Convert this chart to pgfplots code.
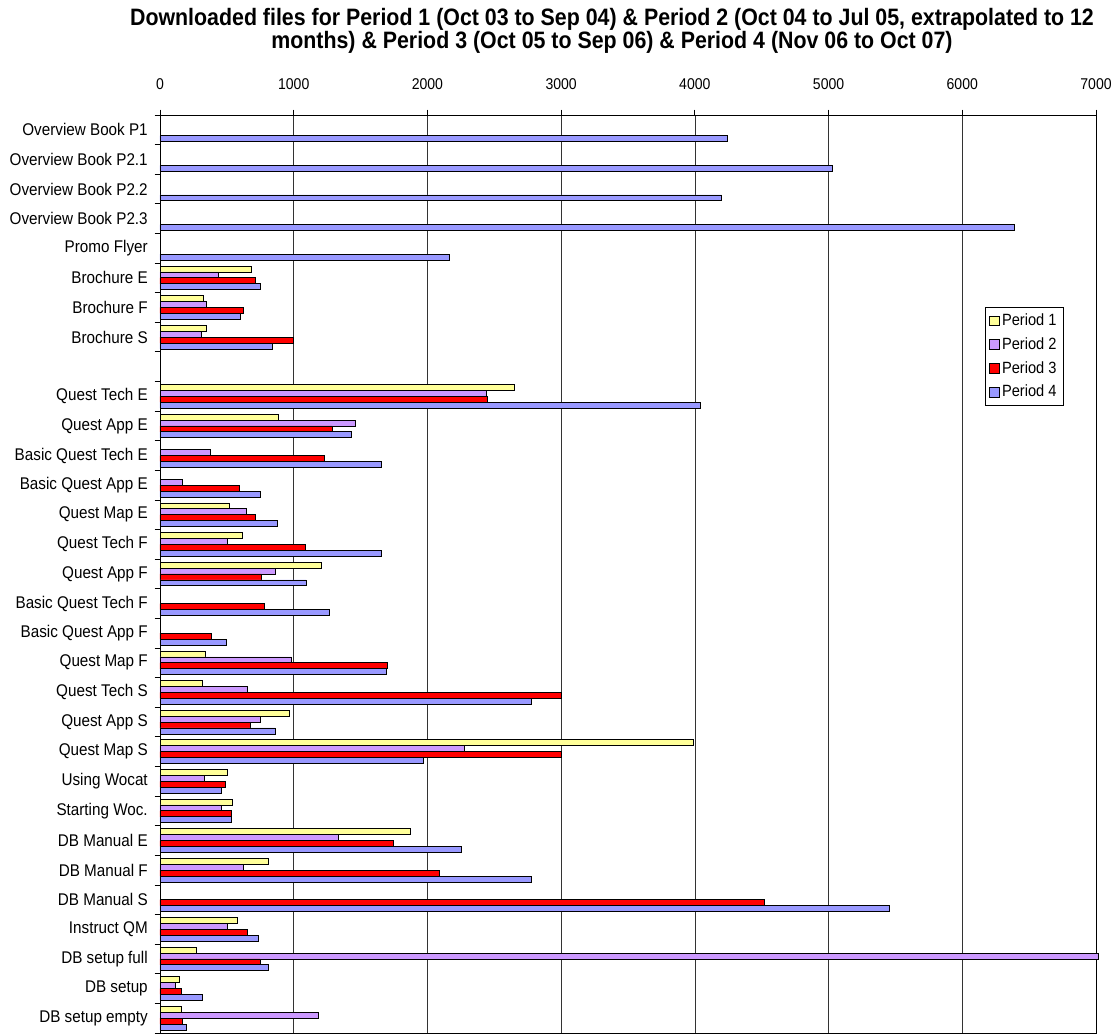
\documentclass[border=0pt]{standalone}
\usepackage{fontspec}
\setmainfont[FakeStretch=0.9]{Liberation Sans}
\usepackage{pgfplots}
\pgfplotsset{compat=1.18}
\definecolor{pone}{HTML}{FFFF99}
\definecolor{ptwo}{HTML}{CC99FF}
\definecolor{pthree}{HTML}{FF0000}
\definecolor{pfour}{HTML}{9999FF}
\begin{document}
\begin{tikzpicture}
\useasboundingbox (0,0) rectangle (835.5pt,775.5pt);
\node[font=\bfseries\fontsize{17.8}{17}\selectfont, align=center, inner sep=0pt] at (459pt,752.5pt)
 {Downloaded files for Period 1 (Oct 03 to Sep 04) \& Period 2 (Oct 04 to Jul 05, extrapolated to 12\\months) \& Period 3 (Oct 05 to Sep 06) \& Period 4 (Nov 06 to Oct 07)};
\begin{axis}[
  scale only axis, width=702pt, height=688.5pt,
  at={(120pt,0.75pt)}, anchor=south west,
  xmin=0, xmax=7000, ymin=-0.5, ymax=30.5,
  xbar, bar width=0.2,
  xtick={0,1000,...,7000},
  xtick pos=upper, xticklabel pos=upper,
  ytick pos=left,
  tick align=outside,
  major tick length=4pt,
  tick style={black, line width=0.6pt},
  axis line style={black, line width=0.6pt},
  xmajorgrids, major grid style={black!80, line width=0.5pt},
  /pgf/number format/1000 sep={},
  /pgf/number format/assume math mode=true,
  x tick label style={font=\fontsize{11.7}{13}\selectfont, yshift=11.5pt},
  ytick={-0.5,0.5,...,30.5},
  y tick label as interval,
  yticklabels={DB setup empty, DB setup, DB setup full, Instruct QM, DB Manual S, DB Manual F, DB Manual E, Starting Woc., Using Wocat, Quest Map S, Quest App S, Quest Tech S, Quest Map F, Basic Quest App F, Basic Quest Tech F, Quest App F, Quest Tech F, Quest Map E, Basic Quest App E, Basic Quest Tech E, Quest App E, Quest Tech E, {}, Brochure S, Brochure F, Brochure E, Promo Flyer, Overview Book P2.3, Overview Book P2.2, Overview Book P2.1, Overview Book P1},
  y tick label style={font=\fontsize{12.7}{14}\selectfont, inner sep=0pt, xshift=-5pt},
  legend style={at={(0.881,0.791)}, anchor=north west, draw=black, line width=0.5pt,
    font=\fontsize{12.2}{13}\selectfont, row sep=3.5pt, inner sep=3pt},
  legend cell align=left,
  legend image code/.code={\draw[#1, line width=0.6pt] (0pt,-3.6pt) rectangle (7.2pt,3.6pt);},
  clip=false,
]
\addplot[fill=pone, draw=black, line width=0.6pt, bar shift=0.3] coordinates {
 (682,25) (323,24) (347,23) (2652,21) (885,20) (521,17) (618,16) (1208,15)
 (340,12) (315,11) (965,10) (3990,9) (503,8) (545,7) (1874,6) (813,5) (580,3) (270,2) (142,1) (158,0)};
\addplot[fill=ptwo, draw=black, line width=0.6pt, bar shift=0.1] coordinates {
 (438,25) (347,24) (307,23) (2443,21) (1460,20) (377,19) (166,18) (647,17) (505,16) (866,15)
 (984,12) (655,11) (751,10) (2278,9) (329,8) (460,7) (1331,6) (623,5) (505,3) (7020,2) (115,1) (1182,0)};
\addplot[fill=pthree, draw=black, line width=0.6pt, bar shift=-0.1] coordinates {
 (714,25) (620,24) (1000,23) (2446,21) (1288,20) (1227,19) (593,18) (716,17) (1088,16) (759,15)
 (781,14) (388,13) (1700,12) (3000,11) (676,10) (3000,9) (487,8) (537,7) (1743,6) (2088,5) (4520,4)
 (655,3) (749,2) (158,1) (166,0)};
\addplot[fill=pfour, draw=black, line width=0.6pt, bar shift=-0.3] coordinates {
 (4245,30) (5032,29) (4201,28) (6389,27) (2168,26) (754,25) (602,24) (839,23) (4045,21) (1433,20)
 (1655,19) (754,18) (880,17) (1658,16) (1093,15) (1267,14) (495,13) (1695,12) (2780,11) (863,10)
 (1970,9) (462,8) (535,7) (2256,6) (2780,5) (5454,4) (735,3) (813,2) (318,1) (200,0)};
\legend{Period 1, Period 2, Period 3, Period 4}
\end{axis}
\end{tikzpicture}
\end{document}
